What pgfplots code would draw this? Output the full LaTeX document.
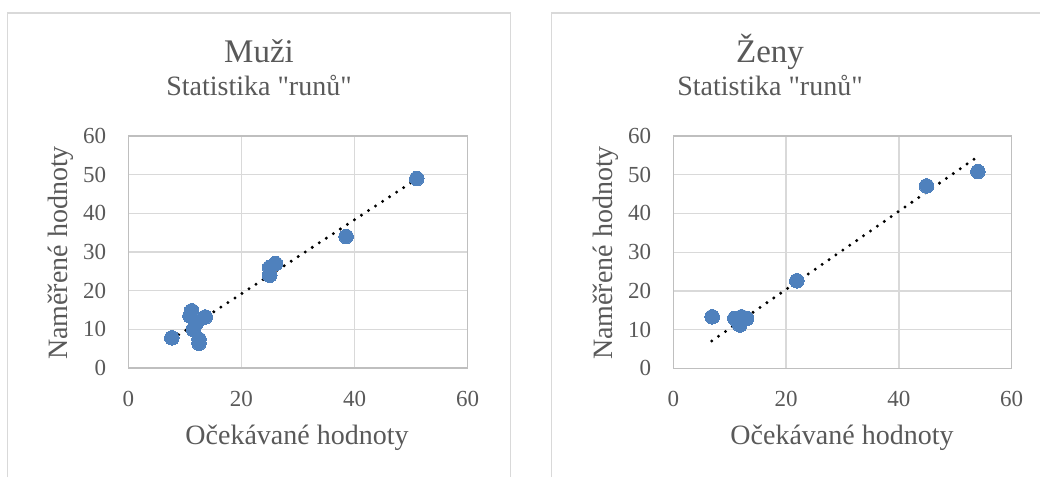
\documentclass[border=0pt]{standalone}
\usepackage{fontspec}
\setmainfont{Liberation Serif}
\newfontfamily\qf{Liberation Serif}
\usepackage{pgfplots}
\pgfplotsset{compat=1.18}
\definecolor{txt}{HTML}{595959}
\definecolor{mk}{HTML}{4F81BD}
\definecolor{gridc}{HTML}{D9D9D9}
\definecolor{framec}{HTML}{D9D9D9}
\newcommand{\sq}{{\qf"}}
\pgfplotsset{
  myax/.style={
    scale only axis, width=339.4pt, height=232pt,
    anchor=south west,
    xmin=0, xmax=60, ymin=0, ymax=60,
    xtick={0,20,40,60}, ytick={0,10,...,60},
    grid=major, grid style={gridc, line width=1.3pt},
    axis line style={black!25, line width=1.3pt},
    major tick length=0pt,
    /pgf/number format/assume math mode=true,
    every tick label/.append style={font=\fontsize{23}{27}\selectfont, text=txt, inner sep=0pt},
    xticklabel style={anchor=north, yshift=-23pt},
    yticklabel style={anchor=east, xshift=-22pt},
    clip=false,
  },
  mkst/.style={only marks, color=mk, mark=*, mark size=7.3pt, mark options={draw=mk, fill=mk, line width=0pt}},
  trst/.style={no marks, black, line width=3.3pt, line cap=round, dash pattern=on 0pt off 8.4pt},
}
\begin{document}
\begin{tikzpicture}[x=1pt,y=1pt]
\path[use as bounding box] (0,0) rectangle (1040,477);
\draw[framec, line width=1.3pt] (7.7,0) -- (7.7,464) -- (510.7,464) -- (510.7,0);
\draw[framec, line width=1.3pt] (551.7,0) -- (551.7,464) -- (1041,464);
% Left
\begin{axis}[myax, at={(128.3pt,109pt)}]
\addplot[mkst] coordinates {
(7.7,7.8) (11.2,14.8) (10.9,13.5) (13.6,13.2) (11.5,10.0) (12.0,11.5)
(12.5,6.4) (12.5,7.4) (25.0,26.0) (26.0,27.0) (25.0,24.0) (38.5,34.0) (51.0,49.0)};
\addplot[trst] coordinates {(7.67,7.4) (50.7,48.6)};
\end{axis}
\node[text=txt, font=\fontsize{33}{38}\selectfont, anchor=base] at (259,414) {Muži};
\node[text=txt, font=\fontsize{28}{32}\selectfont, anchor=base] at (259,381) {Statistika \sq runů\sq};
\node[text=txt, font=\fontsize{28}{32}\selectfont, anchor=base] at (297,33) {Očekávané hodnoty};
\node[text=txt, font=\fontsize{28}{32}\selectfont, anchor=base, rotate=90] at (67,224) {Naměřené hodnoty};
% Right
\begin{axis}[myax, width=338.4pt, height=232.3pt, at={(673.3pt,108.7pt)}]
\addplot[mkst] coordinates {
(6.9,13.3) (10.9,12.9) (12.1,13.3) (13.0,12.9) (11.8,11.2)
(21.9,22.6) (44.9,47.1) (54.0,50.8)};
\addplot[trst] coordinates {(6.8,7.05) (54.0,54.7)};
\end{axis}
\node[text=txt, font=\fontsize{33}{38}\selectfont, anchor=base] at (770,414) {Ženy};
\node[text=txt, font=\fontsize{28}{32}\selectfont, anchor=base] at (770,381) {Statistika \sq runů\sq};
\node[text=txt, font=\fontsize{28}{32}\selectfont, anchor=base] at (842,33) {Očekávané hodnoty};
\node[text=txt, font=\fontsize{28}{32}\selectfont, anchor=base, rotate=90] at (612,224) {Naměřené hodnoty};
\end{tikzpicture}
\end{document}
